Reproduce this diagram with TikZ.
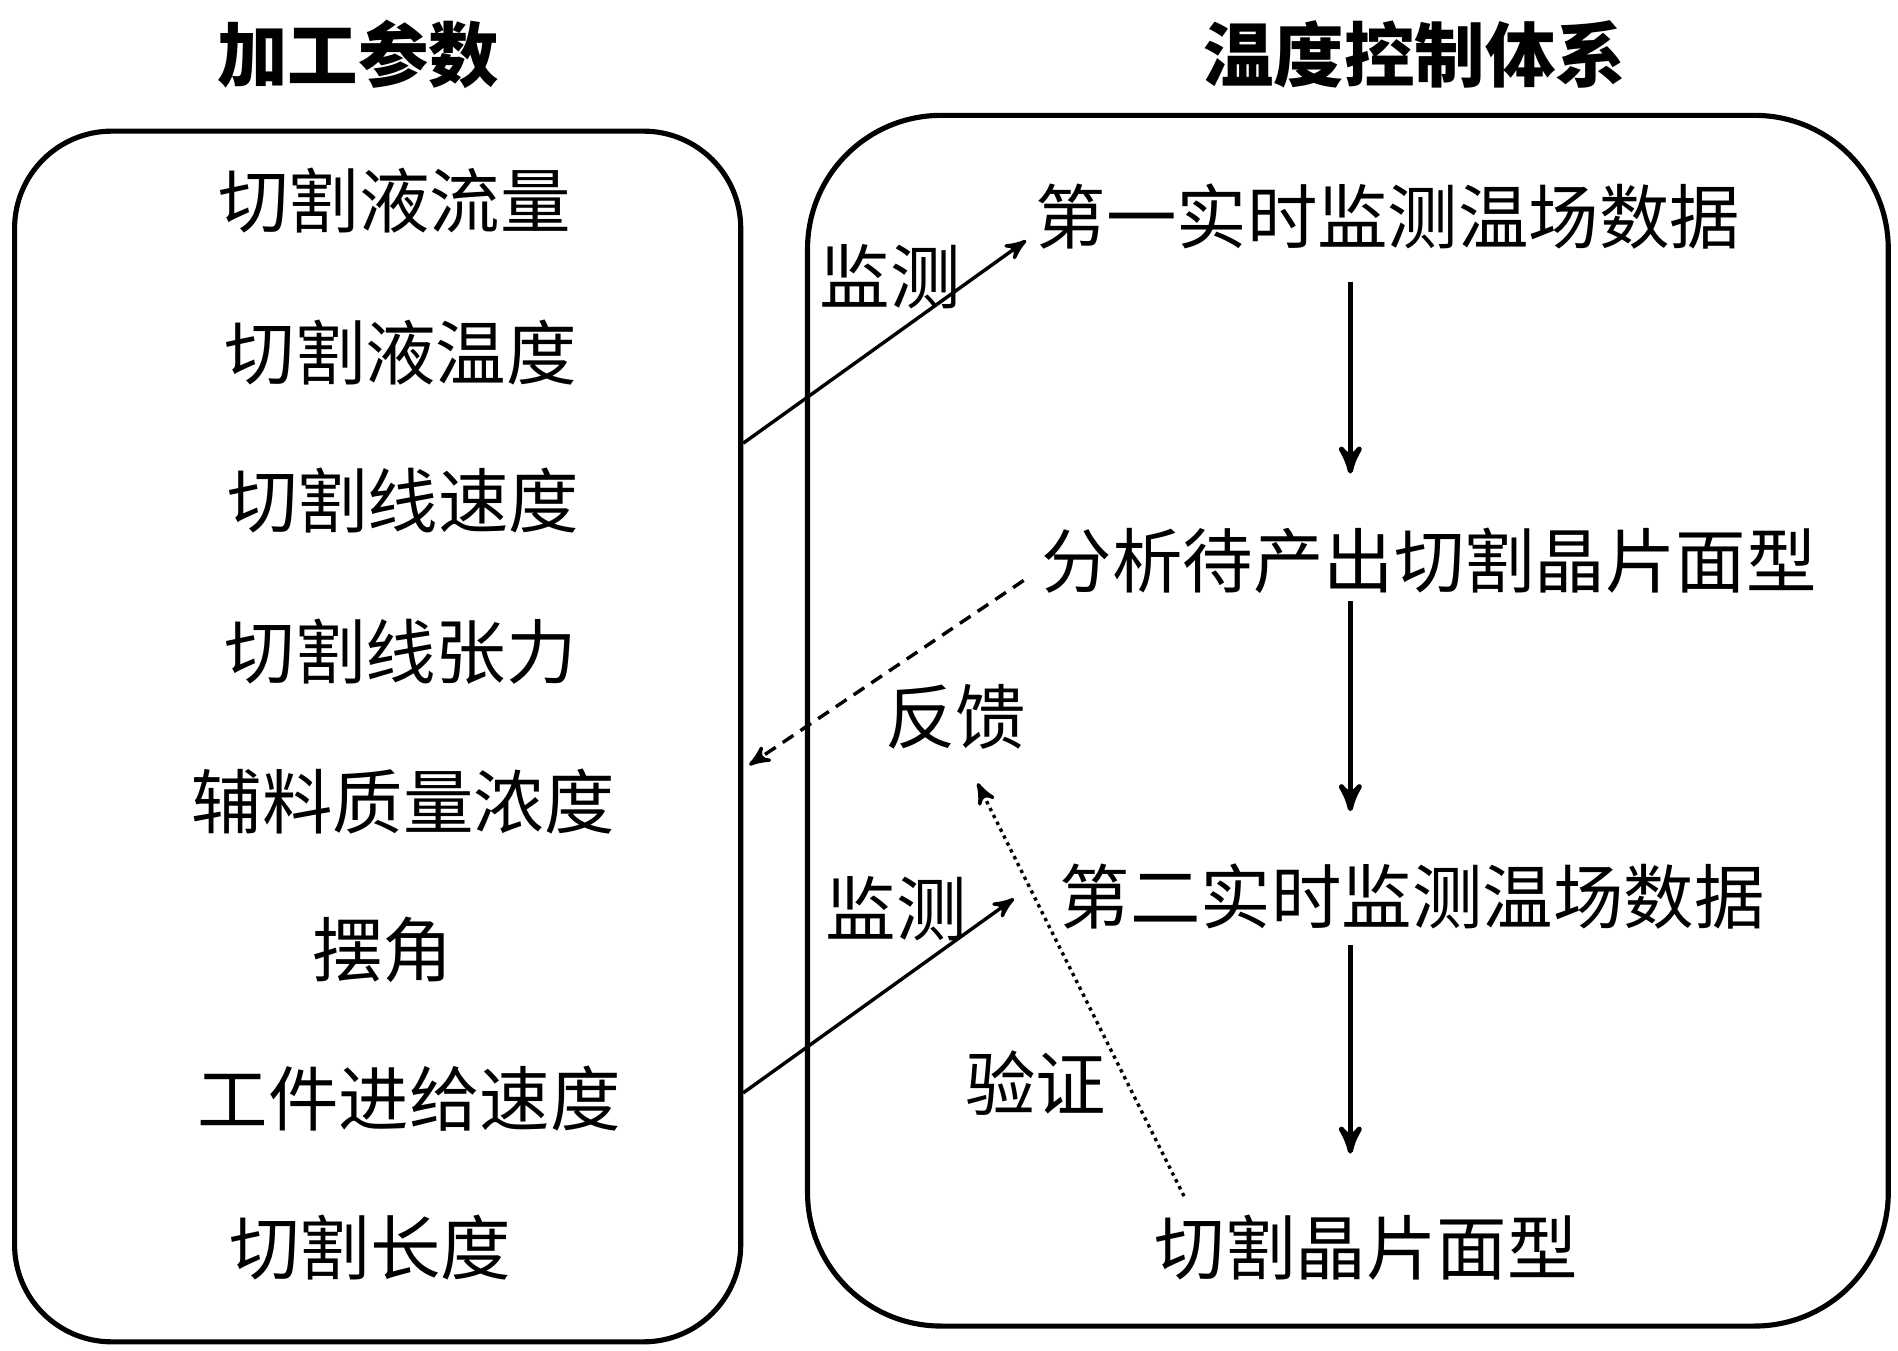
\documentclass[tikz,border=0pt]{standalone}
\usepackage{fontspec}
\setmainfont{Noto Sans CJK SC}
\usetikzlibrary{arrows}
\tikzset{
  item/.style={font=\fontsize{16.5pt}{18pt}\selectfont, inner sep=1pt},
  title/.style={font=\fontsize{16.5pt}{18pt}\selectfont\bfseries},
  flow/.style={black, very thick, ->, >=stealth'},
  link/.style={black, thick, ->, >=stealth'},
}
\begin{document}
\begin{tikzpicture}[x=0.01cm, y=-0.01cm]
\useasboundingbox (0,0) rectangle (1563,1112);
% boxes
\draw[very thick, rounded corners=0.8cm] (12,108) rectangle (610,1105);
\draw[very thick, rounded corners=1.1cm] (665,95) rectangle (1555,1092);
\node[title] (tl) at (295,45) {加工参数};
\node[title] (tr) at (1165,45) {温度控制体系};
% parameters
\node[item] (p1) at (325,165) {切割液流量};
\node[item] (p2) at (330,290) {切割液温度};
\node[item] (p3) at (332,412) {切割线速度};
\node[item] (p4) at (330,537) {切割线张力};
\node[item] (p5) at (332,660) {辅料质量浓度};
\node[item] (p6) at (315,782) {摆角};
\node[item] (p7) at (337,905) {工件进给速度};
\node[item] (p8) at (305,1027) {切割长度};
% control chain
\node[item] (s1) at (1143,178) {第一实时监测温场数据};
\node[item] (s2) at (1177,462) {分析待产出切割晶片面型};
\node[item] (s3) at (1163,738) {第二实时监测温场数据};
\node[item] (s4) at (1125,1027) {切割晶片面型};
\coordinate (a1) at (1112,232); \coordinate (b1) at (1112,390);
\coordinate (a2) at (1112,495); \coordinate (b2) at (1112,668);
\coordinate (a3) at (1112,778); \coordinate (b3) at (1112,950);
\draw[flow] (a1) -- (b1);
\draw[flow] (a2) -- (b2);
\draw[flow] (a3) -- (b3);
% links
\coordinate (m1) at (612,365); \coordinate (m1e) at (845,198);
\coordinate (fb) at (843,478); \coordinate (fbe) at (617,630);
\coordinate (m2) at (612,900); \coordinate (m2e) at (835,740);
\coordinate (vf) at (975,985); \coordinate (vfe) at (805,645);
\draw[link] (m1) -- (m1e);
\draw[link, densely dashed] (fb) -- (fbe);
\draw[link] (m2) -- (m2e);
\draw[link, densely dotted] (vf) -- (vfe);
\node[item] (l1) at (733,228) {监测};
\node[item] (l2) at (787,590) {反馈};
\node[item] (l3) at (738,748) {监测};
\node[item] (l4) at (853,892) {验证};
\end{tikzpicture}
\end{document}
